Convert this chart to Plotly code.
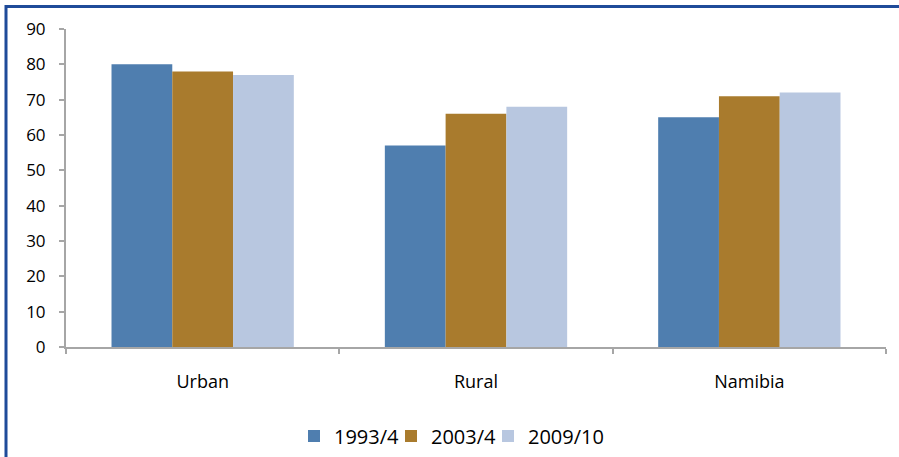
import plotly.graph_objects as go

categories = ["Urban", "Rural", "Namibia"]
series_names = ["1993/4", "2003/4", "2009/10"]
values_1993 = [80, 57, 65]
values_2003 = [78, 66, 71]
values_2009 = [77, 68, 72]
colors = ["#4F7EAF", "#A97B2D", "#B8C7E0"]
y_ticks = [0, 10, 20, 30, 40, 50, 60, 70, 80, 90]

L, R, T, B = 66, 13, 29, 110
W, H = 899, 457
pw, ph = W - L - R, H - T - B

def px_x(px):
    return (px - L) / pw

def px_y(py):
    return (H - B - py) / ph

legend_ids = ["legend", "legend2", "legend3"]
legend_left_px = [294, 391, 488]

fig = go.Figure()
for name, vals, col, lid in zip(series_names, [values_1993, values_2003, values_2009], colors, legend_ids):
    fig.add_trace(go.Bar(x=categories, y=vals, name=name, legend=lid,
                         marker=dict(color=col, line=dict(width=0))))

frame_col = "#1F4B99"
fig.add_shape(type="line", xref="paper", yref="paper", x0=px_x(6), x1=px_x(905), y0=px_y(6.5), y1=px_y(6.5),
              line=dict(color=frame_col, width=3))
fig.add_shape(type="line", xref="paper", yref="paper", x0=px_x(6), x1=px_x(6), y0=px_y(5), y1=px_y(460),
              line=dict(color=frame_col, width=3))

legend_common = dict(orientation="h", xanchor="left", y=px_y(436), yanchor="middle",
                     font=dict(size=20), itemwidth=30, bgcolor="rgba(0,0,0,0)")
layout_legends = {}
for lid, lx in zip(legend_ids, legend_left_px):
    layout_legends[lid] = dict(legend_common, x=px_x(lx))

fig.update_layout(
    width=W, height=H,
    margin=dict(l=L, r=R, t=T, b=B, autoexpand=False),
    barmode="group", bargap=0.333, bargroupgap=0,
    plot_bgcolor="white", paper_bgcolor="white",
    font=dict(family="Open Sans, sans-serif", size=17, color="#000000"),
    showlegend=True,
    xaxis=dict(showline=True, linecolor="#A6A6A6", linewidth=2, ticks="outside", tickson="boundaries",
               ticklen=5, tickcolor="#A6A6A6", tickwidth=2, showgrid=False, ticklabelstandoff=17,
               tickfont=dict(size=18)),
    yaxis=dict(range=[0, 90], tickvals=y_ticks, showline=True, linecolor="#A6A6A6", linewidth=2,
               ticks="outside", ticklen=5, tickcolor="#A6A6A6", tickwidth=2, showgrid=False, zeroline=False,
               ticklabelstandoff=10, tickfont=dict(size=17)),
    **layout_legends,
)

fig.write_html("out.html")
